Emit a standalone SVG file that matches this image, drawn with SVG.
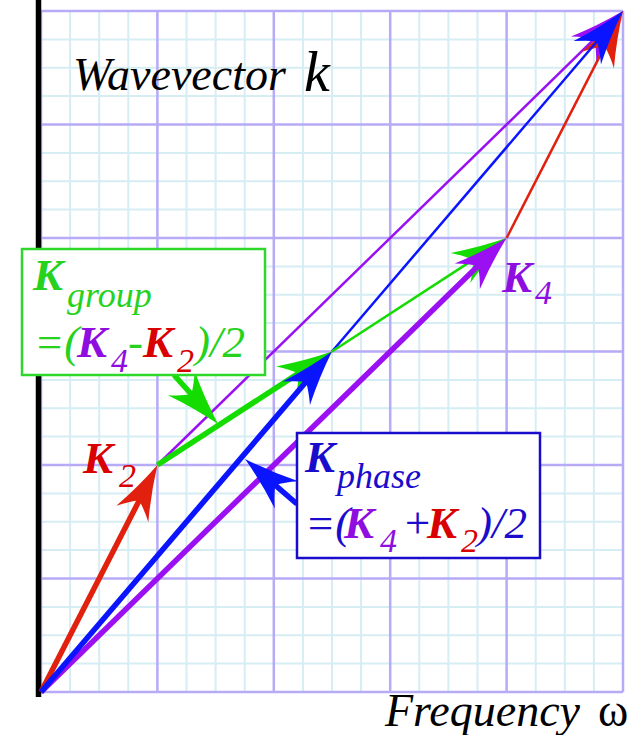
<svg xmlns="http://www.w3.org/2000/svg" width="637" height="735" viewBox="0 0 637 735">
<defs>
<marker id="ar" viewBox="-26 -19 58 38" markerWidth="58" markerHeight="38" refX="0" refY="0" orient="auto" markerUnits="userSpaceOnUse"><path d="M30,0 Q2,-7 -25,-18 Q-15,-8 -10,0 Q-15,8 -25,18 Q2,7 30,0 Z" fill="#e1200e"/></marker>
<marker id="ap" viewBox="-26 -19 58 38" markerWidth="58" markerHeight="38" refX="0" refY="0" orient="auto" markerUnits="userSpaceOnUse"><path d="M30,0 Q2,-7 -25,-18 Q-15,-8 -10,0 Q-15,8 -25,18 Q2,7 30,0 Z" fill="#9b10f2"/></marker>
<marker id="ab" viewBox="-26 -19 58 38" markerWidth="58" markerHeight="38" refX="0" refY="0" orient="auto" markerUnits="userSpaceOnUse"><path d="M30,0 Q2,-7 -25,-18 Q-15,-8 -10,0 Q-15,8 -25,18 Q2,7 30,0 Z" fill="#0a14ff"/></marker>
<marker id="ag" viewBox="-26 -19 58 38" markerWidth="58" markerHeight="38" refX="0" refY="0" orient="auto" markerUnits="userSpaceOnUse"><path d="M30,0 Q2,-7 -25,-18 Q-15,-8 -10,0 Q-15,8 -25,18 Q2,7 30,0 Z" fill="#14dc00"/></marker>
</defs>
<rect width="637" height="735" fill="#ffffff"/>
<g id="grid" fill="none">
<path stroke="#d6edf3" stroke-width="2" d="M70.1,11V692M99.2,11V692M128.3,11V692M186.5,11V692M215.6,11V692M244.7,11V692M302.9,11V692M332,11V692M361.1,11V692M419.3,11V692M448.4,11V692M477.5,11V692M535.7,11V692M564.8,11V692M593.9,11V692M41,663.6H623M41,635.25H623M41,606.9H623M41,550.1H623M41,521.75H623M41,493.4H623M41,436.6H623M41,408.25H623M41,379.9H623M41,323.1H623M41,294.75H623M41,266.4H623M41,209.6H623M41,181.25H623M41,152.9H623M41,96.1H623M41,67.75H623M41,39.4H623"/>
<path stroke="#b7abf7" stroke-width="2.5" d="M41,11V692M157.4,11V692M273.8,11V692M390.2,11V692M506.6,11V692M623,11V692M41,692H623M41,578.5H623M41,465H623M41,351.5H623M41,238H623M41,124.5H623M41,11H623"/>
</g>
<g id="axis"><line x1="38.5" y1="0" x2="38.5" y2="697" stroke="#000" stroke-width="5.5"/></g>
<g id="connectors" fill="none">
<g stroke-width="2.5">
<line stroke="#9b10f2" x1="157.4" y1="465" x2="601.52" y2="31.94" marker-end="url(#ap)"/>
<line stroke="#e1200e" x1="506.6" y1="238" x2="609.31" y2="37.69" marker-end="url(#ar)"/>
<line stroke="#0a14ff" x1="332" y1="351.5" x2="603.51" y2="33.81" marker-end="url(#ab)"/>
<line stroke="#14dc00" x1="332" y1="351.5" x2="481.44" y2="254.35" marker-end="url(#ag)"/>
</g>
<g stroke-width="5.5">
<line stroke="#9b10f2" x1="41" y1="692" x2="485.12" y2="258.94" marker-end="url(#ap)"/>
<line stroke="#e1200e" x1="41" y1="692" x2="143.71" y2="491.69" marker-end="url(#ar)"/>
<line stroke="#14dc00" x1="157.4" y1="465" x2="306.84" y2="367.85" marker-end="url(#ag)"/>
<line stroke="#0a14ff" x1="41" y1="692" x2="312.51" y2="374.31" marker-end="url(#ab)"/>
<line stroke="#14dc00" x1="174" y1="375" x2="198" y2="401.7" marker-end="url(#ag)"/>
<line stroke="#0a14ff" x1="297" y1="504" x2="267.7" y2="478.6" marker-end="url(#ab)"/>
</g>
</g>
<g font-family="Liberation Serif, serif" font-style="italic">
<g id="title-k" fill="#000"><text x="73" y="90" font-size="46">Wavevector</text><text x="304" y="91" font-size="58">k</text></g>
<g id="title-omega" fill="#000"><text x="385" y="726" font-size="46">Frequency</text><text x="598" y="726" font-size="46" font-style="normal">ω</text></g>
<g id="label-k2"><text fill="#d80000"><tspan font-weight="bold" font-size="45" x="83" y="473">K</tspan><tspan font-size="34" x="119" y="487">2</tspan></text></g>
<g id="label-k4"><text fill="#8e0ee0"><tspan font-weight="bold" font-size="45" x="502" y="292">K</tspan><tspan font-size="34" x="535" y="304">4</tspan></text></g>
<g id="box-group">
<rect x="22" y="249" width="243" height="126" fill="#ffffff" stroke="#2ed82a" stroke-width="2.5"/>
<text fill="#26d21e"><tspan font-weight="bold" font-size="45" x="33" y="290">K</tspan><tspan font-size="36" x="67" y="307">group</tspan></text>
<text font-size="45"><tspan fill="#26d21e" x="34" y="357">=(</tspan><tspan fill="#8e0ee0" font-weight="bold" x="77" y="357">K</tspan><tspan fill="#8e0ee0" font-size="34" x="111" y="372">4</tspan><tspan fill="#26d21e" x="128" y="357">-</tspan><tspan fill="#d80000" font-weight="bold" x="143" y="357">K</tspan><tspan fill="#d80000" font-size="34" x="177" y="372">2</tspan><tspan fill="#26d21e" x="195" y="357">)/2</tspan></text>
</g>
<g id="box-phase">
<rect x="297" y="433" width="243" height="125" fill="#ffffff" stroke="#1a0ccc" stroke-width="2.5"/>
<text fill="#1a0ccc"><tspan font-weight="bold" font-size="45" x="305" y="472">K</tspan><tspan font-size="36" x="337" y="488">phase</tspan></text>
<text font-size="45"><tspan fill="#1a0ccc" x="305" y="538">=(</tspan><tspan fill="#8e0ee0" font-weight="bold" x="344" y="538">K</tspan><tspan fill="#8e0ee0" font-size="34" x="380" y="552">4</tspan><tspan fill="#1a0ccc" x="402" y="538">+</tspan><tspan fill="#d80000" font-weight="bold" x="427" y="538">K</tspan><tspan fill="#d80000" font-size="34" x="461" y="552">2</tspan><tspan fill="#1a0ccc" x="477" y="538">)/2</tspan></text>
</g>
</g>
</svg>
